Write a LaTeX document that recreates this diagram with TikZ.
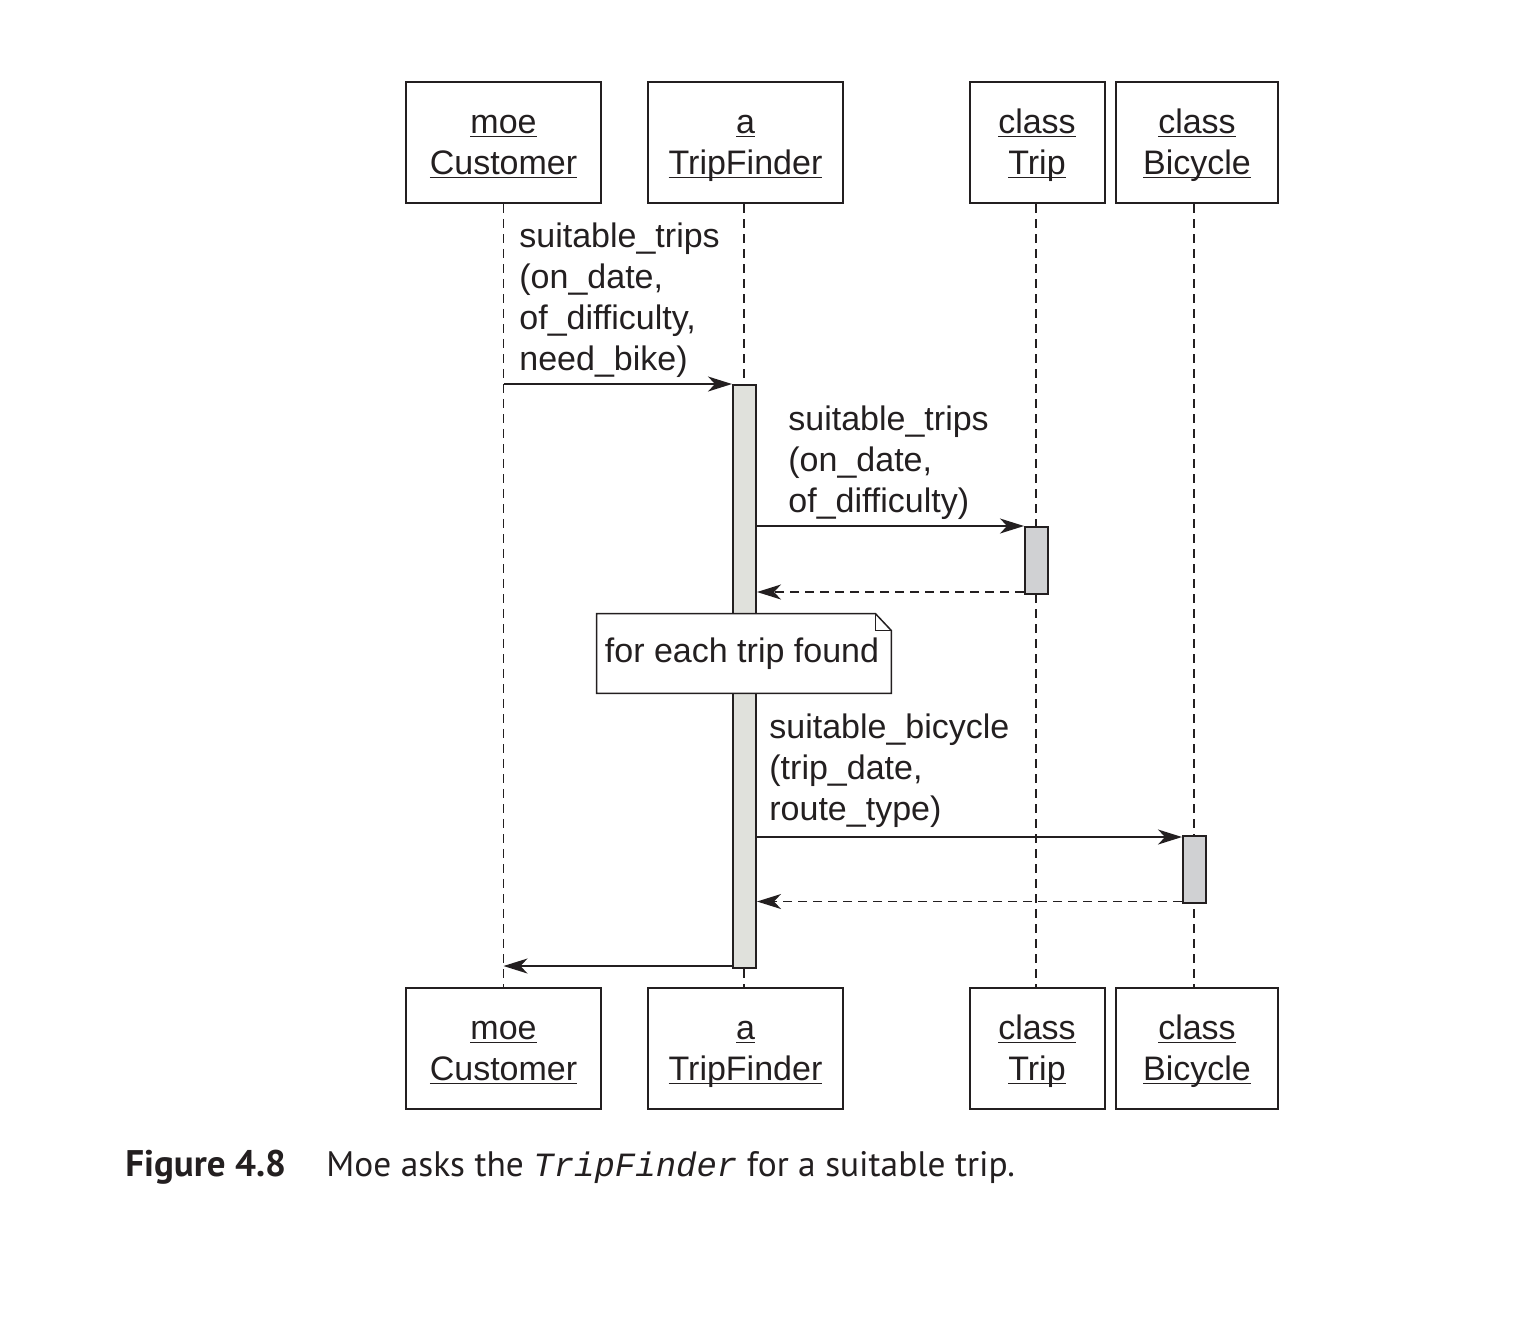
\documentclass[tikz,border=0pt]{standalone}
\usepackage{fontspec}
\setmainfont{Liberation Sans}
\newfontfamily\capfont{PT Sans}
\newfontfamily\capmono{Liberation Mono}
\usepackage{tikz}
\usetikzlibrary{arrows.meta}
\definecolor{charcoal}{RGB}{35, 31, 32}
\definecolor{ash}{RGB}{224, 225, 220}
\definecolor{pewter}{RGB}{208, 209, 211}

\newcommand\diagfont{\fontsize{17}{20.5}\selectfont}
\newcommand\ulname[1]{\setbox0\hbox{#1}\rlap{\rule[-2.1pt]{\wd0}{0.75pt}}\box0}
\newcommand\objname[2]{\raisebox{-1.5pt}[\height][\depth]{\begin{tabular}{@{}c@{}}\ulname{#1}\\\ulname{#2}\end{tabular}}}

\tikzset{
  objbox/.style={draw=charcoal, line width=1pt, minimum height=60.5pt, inner sep=0pt, font=\diagfont, text=charcoal},
  lifeline/.style={draw=charcoal, line width=0.9pt, dash pattern=on 4.5pt off 3pt},
  actbar/.style={draw=charcoal, line width=1pt, minimum width=11.5pt, inner sep=0pt, anchor=north},
  msg/.style={draw=charcoal, line width=0.8pt, -{Stealth[length=12pt, width=7.5pt, inset=3.5pt]}},
  retmsg/.style={msg, dash pattern=on 4.5pt off 3pt},
  msglabel/.style={anchor=base west, inner sep=0pt, align=left, font=\diagfont, text=charcoal}
}

\begin{document}
\begin{tikzpicture}[x=0.5pt, y=-0.5pt]
            \useasboundingbox (0,0) rectangle (1534,1324);
            \node[objbox, minimum width=97.5pt] (cust)    at ( 503.5, 142.5) {\objname{moe}{Customer}};
            \node[objbox, minimum width=97.5pt] (finder)  at ( 745.5, 142.5) {\objname{a}{TripFinder}};
            \node[objbox, minimum width=67.5pt] (trip)    at (1037.0, 142.5) {\objname{class}{Trip}};
            \node[objbox, minimum width=81.0pt] (bike)    at (1197.0, 142.5) {\objname{class}{Bicycle}};
            \node[objbox, minimum width=97.5pt] (custB)   at ( 503.5,1048.5) {\objname{moe}{Customer}};
            \node[objbox, minimum width=97.5pt] (finderB) at ( 745.5,1048.5) {\objname{a}{TripFinder}};
            \node[objbox, minimum width=67.5pt] (tripB)   at (1037.0,1048.5) {\objname{class}{Trip}};
            \node[objbox, minimum width=81.0pt] (bikeB)   at (1197.0,1048.5) {\objname{class}{Bicycle}};
            \draw[lifeline] (cust.south)   -- (custB.north);
            \draw[lifeline] ([xshift=-0.75pt]finder.south) -- ([xshift=-0.75pt]finderB.north);
            \draw[lifeline] ([xshift=-0.5pt]trip.south)   -- ([xshift=-0.5pt]tripB.north);
            \draw[lifeline] ([xshift=-1.5pt]bike.south)   -- ([xshift=-1.5pt]bikeB.north);
            \node[actbar, fill=ash,    minimum height=291.5pt] (findact) at ( 744.5, 384.0) {};
            \node[actbar, fill=pewter, minimum height=33.5pt]  (tripact) at (1036.5, 526.0) {};
            \node[actbar, fill=pewter, minimum height=33.25pt] (bikeact) at (1194.5, 835.0) {};
            \draw[msg]    (cust.south |- findact.north) -- (findact.north west);
            \node[msglabel] (m1label) at (519, 370) {suitable\_trips\\(on\_date,\\of\_difficulty,\\need\_bike)};
            \draw[msg]    (findact.east |- tripact.north) -- (tripact.north west);
            \node[msglabel] (m2label) at (788, 512) {suitable\_trips\\(on\_date,\\of\_difficulty)};
            \draw[retmsg] ([yshift=1.5pt]tripact.south west) -- ([yshift=1.5pt]findact.east |- tripact.south);
            \node[minimum width=147pt, minimum height=39.5pt, inner sep=0pt] (loopnote) at (744, 653.5) {};
            \filldraw[charcoal, fill=white, line width=0.75pt]
                 (loopnote.north west) -- ([xshift=-8pt]loopnote.north east) -- ([yshift=-8.5pt]loopnote.north east)
                 -- (loopnote.south east) -- (loopnote.south west) -- cycle;
            \draw[charcoal, line width=0.75pt] ([xshift=-8pt]loopnote.north east) |- ([yshift=-8.5pt]loopnote.north east);
            \node[font=\diagfont, text=charcoal] (notetext) at ([xshift=-1pt]loopnote.center) {for each trip found};
            \node[msglabel] (m3label) at (769, 820) {suitable\_bicycle\\(trip\_date,\\route\_type)};
            \draw[msg]    ([yshift=-1pt]findact.east |- bikeact.north) -- ([yshift=-1pt]bikeact.north west);
            \draw[retmsg] ([yshift=1pt]bikeact.south west) -- ([yshift=1pt]findact.east |- bikeact.south);
            \draw[msg]    ([yshift=1.5pt]findact.south west) -- ([yshift=1.5pt]cust.south |- findact.south);
            \node[anchor=base west, inner sep=0pt, font=\capfont\bfseries\fontsize{18.5}{22}\selectfont, text=charcoal] (capnum) at (125, 1176) {Figure 4.8};
            \node[anchor=base west, inner sep=0pt, font=\capfont\fontsize{17.7}{21}\selectfont, text=charcoal] (captext) at (326, 1176)
                 {Moe asks the {\capmono\itshape\fontsize{17}{21}\selectfont TripFinder} for a suitable trip.};
        \end{tikzpicture}
\end{document}
